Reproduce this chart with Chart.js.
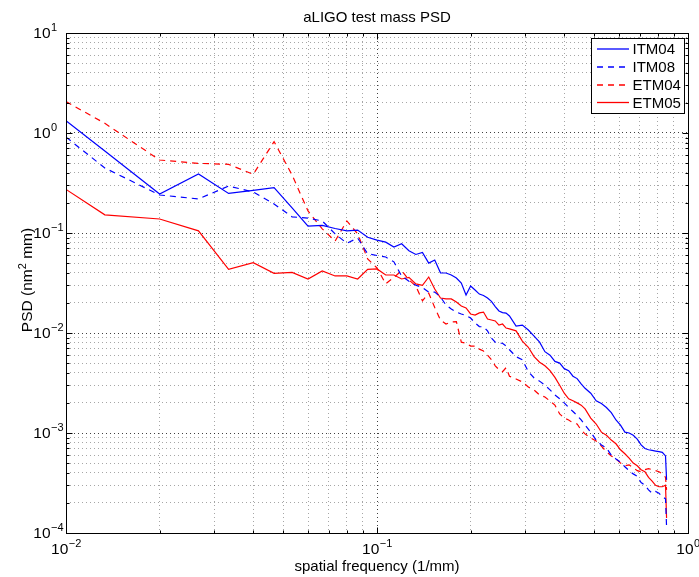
<!DOCTYPE html>
<html>
<head>
<meta charset="utf-8">
<title>aLIGO test mass PSD</title>
<script src="https://cdn.jsdelivr.net/npm/chart.js@4.4.0/dist/chart.umd.min.js"></script>
<style>
  html, body { margin: 0; padding: 0; background: #fff; }
</style>
</head>
<body>
<canvas id="psdChart" width="699" height="577"></canvas>
<script>
// === Data ===
// spatial frequency in 1/mm
const freq = [
  0.01, 0.01333, 0.02, 0.02667, 0.03333, 0.04, 0.04667, 0.05333, 0.06, 0.06667,
  0.07333, 0.08, 0.08667, 0.09333, 0.1, 0.10667, 0.11333, 0.12, 0.12667, 0.13333,
  0.14, 0.14667, 0.15333, 0.16, 0.16667, 0.17333, 0.18, 0.18667, 0.19333, 0.2,
  0.20667, 0.21333, 0.22, 0.22667, 0.23333, 0.24, 0.24667, 0.25333, 0.26, 0.26667,
  0.28, 0.29333, 0.30667, 0.32, 0.33333, 0.34667, 0.36, 0.37333, 0.38667, 0.4,
  0.41333, 0.42667, 0.44, 0.45333, 0.46667, 0.48667, 0.50667, 0.52667, 0.54667, 0.56667,
  0.58667, 0.60667, 0.62667, 0.64667, 0.66667, 0.68667, 0.70667, 0.72667, 0.74667, 0.76667,
  0.78667, 0.80667, 0.82667, 0.84667, 0.85333
];

// PSD in nm^2 mm
const itm04 = [
  1.33, 0.66, 0.245, 0.39, 0.249, 0.267, 0.284, 0.178, 0.117, 0.119,
  0.111, 0.105, 0.107, 0.0906, 0.085, 0.081, 0.0724, 0.078, 0.0666, 0.061,
  0.064, 0.050, 0.0537, 0.040, 0.0398, 0.038, 0.0355, 0.0316, 0.024, 0.0295,
  0.0269, 0.0245, 0.0237, 0.0224, 0.0207, 0.0184, 0.0166, 0.016, 0.0158, 0.0148,
  0.0117, 0.012, 0.0107, 0.0093, 0.0081, 0.0065, 0.0060, 0.0052, 0.0050, 0.0044,
  0.0042, 0.0037, 0.0035, 0.0031, 0.0028, 0.0025, 0.0021, 0.00197, 0.0018, 0.0016,
  0.00135, 0.0012, 0.00102, 0.001, 0.00095, 0.00087, 0.00076, 0.0007, 0.00068, 0.00067,
  0.00066, 0.00065, 0.00064, 0.00059, 0.00034
];

const itm08 = [
  0.91, 0.447, 0.24, 0.219, 0.295, 0.257, 0.195, 0.145, 0.141, 0.132,
  0.098, 0.079, 0.089, 0.062, 0.0596, 0.0575, 0.0515, 0.037, 0.033, 0.030,
  0.0285, 0.0256, 0.0257, 0.0229, 0.019, 0.0174, 0.0162, 0.0155, 0.0150, 0.0141,
  0.0126, 0.0116, 0.0115, 0.0105, 0.0089, 0.0081, 0.0079, 0.0079, 0.0074, 0.0068,
  0.0058, 0.0054, 0.0041, 0.00355, 0.0033, 0.003, 0.0027, 0.0024, 0.0022, 0.002,
  0.0018, 0.00164, 0.0015, 0.00135, 0.0012, 0.00102, 0.00085, 0.00076, 0.00071, 0.0006,
  0.00055, 0.00051, 0.00046, 0.00042, 0.00039, 0.00037, 0.00032, 0.0003, 0.00027, 0.00025,
  0.00026, 0.00025, 0.00023, 0.00022, 0.000115
];

const etm04 = [
  2.06, 1.25, 0.537, 0.497, 0.486, 0.386, 0.82, 0.38, 0.166, 0.11,
  0.083, 0.132, 0.098, 0.055, 0.0447, 0.031, 0.036, 0.042, 0.034, 0.0295,
  0.021, 0.025, 0.018, 0.0135, 0.0123, 0.0129, 0.013, 0.0081, 0.0079, 0.0074,
  0.0074, 0.0069, 0.0066, 0.006, 0.0054, 0.0047, 0.0043, 0.0041, 0.0045, 0.0037,
  0.00347, 0.00324, 0.00288, 0.00269, 0.0024, 0.00229, 0.00209, 0.0019, 0.00155, 0.00141,
  0.00135, 0.00126, 0.00123, 0.00107, 0.00098, 0.00089, 0.00083, 0.00074, 0.00065, 0.00059,
  0.00055, 0.0005, 0.00047, 0.00048, 0.00045, 0.00042, 0.00041, 0.00043, 0.00044, 0.00043,
  0.00042, 0.00041, 0.00039, 0.00036, 0.00027
];

const etm05 = [
  0.273, 0.152, 0.138, 0.105, 0.0433, 0.0505, 0.0395, 0.0403, 0.0347, 0.0417,
  0.0372, 0.0373, 0.0347, 0.0433, 0.0437, 0.038, 0.038, 0.0347, 0.036, 0.031,
  0.030, 0.0363, 0.0275, 0.0224, 0.0219, 0.0219, 0.0204, 0.0186, 0.0178, 0.0155,
  0.0151, 0.0159, 0.0162, 0.0138, 0.0135, 0.0132, 0.012, 0.0123, 0.0112, 0.011,
  0.0105, 0.0083, 0.0072, 0.0058, 0.0051, 0.0047, 0.0042, 0.0036, 0.0030, 0.0025,
  0.0022, 0.0021, 0.002, 0.0019, 0.00174, 0.00141, 0.00123, 0.00102, 0.00095, 0.00085,
  0.00078, 0.00068, 0.00062, 0.00056, 0.0005, 0.00047, 0.00043, 0.00041, 0.00036, 0.00033,
  0.0003, 0.00029, 0.00029, 0.0003, 0.000141
];

const seriesNames = ["ITM04", "ITM08", "ETM04", "ETM05"];

// decade ticks and their labels (shown as 10^exp)
const xDecades = [0.01, 0.1, 1];
const xExps = ["\u22122", "\u22121", "0"];
const yDecades = [1e-4, 1e-3, 1e-2, 1e-1, 1, 10];
const yExps = ["\u22124", "\u22123", "\u22122", "\u22121", "0", "1"];

// === Styles ===
const BLUE = "#0000ff";
const RED = "#ff0000";
const FONT = '"Liberation Sans", Arial, Helvetica, sans-serif';
const majorGrid = "rgba(0,0,0,0.75)";
const minorGrid = "rgba(0,0,0,0.35)";

function pts(vals) {
  return freq.map((f, i) => ({ x: f, y: vals[i] }));
}

// decade + 2..9 minor ticks
function logTicks(decades) {
  const ticks = [];
  decades.forEach((d, i) => {
    ticks.push({ value: d, major: true });
    if (i < decades.length - 1) {
      for (let m = 2; m <= 9; m++) ticks.push({ value: d * m, major: false });
    }
  });
  return ticks;
}

// === "10^n" label ===
function drawPow(ctx, exp, x, y, align) {
  ctx.font = "15.5px " + FONT;
  const wb = ctx.measureText("10").width;
  ctx.font = "11px " + FONT;
  const we = ctx.measureText(exp).width;
  let left;
  if (align === "center") left = x - (wb + we) / 2;
  else left = x - wb; // base right edge at x
  ctx.textAlign = "left";
  ctx.textBaseline = "middle";
  ctx.font = "15.5px " + FONT;
  ctx.fillText("10", left, y);
  ctx.font = "11px " + FONT;
  ctx.fillText(exp, left + wb + 0.5, y - 6);
}

// === Matlab-style box, ticks, labels, legend ===
const matlabAxes = {
  id: "matlabAxes",
  afterDraw(chart) {
    const { ctx, chartArea: a } = chart;
    const xs = chart.scales.x;
    const ys = chart.scales.y;
    const L = Math.round(a.left) + 0.5;
    const R = Math.round(a.right) + 0.5;
    const T = Math.round(a.top) + 0.5;
    const B = Math.round(a.bottom) + 0.5;

    ctx.save();
    ctx.strokeStyle = "#000";
    ctx.lineWidth = 1;
    ctx.setLineDash([]);

    // inward ticks on all four sides
    ctx.beginPath();
    logTicks(xDecades).forEach((t) => {
      const px = Math.round(xs.getPixelForValue(t.value)) + 0.5;
      const len = t.major ? 6 : 3;
      ctx.moveTo(px, B); ctx.lineTo(px, B - len);
      ctx.moveTo(px, T); ctx.lineTo(px, T + len);
    });
    logTicks(yDecades).forEach((t) => {
      const py = Math.round(ys.getPixelForValue(t.value)) + 0.5;
      const len = t.major ? 6 : 3;
      ctx.moveTo(L, py); ctx.lineTo(L + len, py);
      ctx.moveTo(R, py); ctx.lineTo(R - len, py);
    });
    ctx.stroke();

    // frame
    ctx.strokeRect(L, T, R - L, B - T);

    // tick labels
    ctx.fillStyle = "#000";
    xDecades.forEach((d, i) => {
      drawPow(ctx, xExps[i], xs.getPixelForValue(d), 549.5, "center");
    });
    yDecades.forEach((d, i) => {
      drawPow(ctx, yExps[i], 50.5, ys.getPixelForValue(d) + 0.5, "right");
    });

    // title and axis labels
    ctx.font = "15px " + FONT;
    ctx.textAlign = "center";
    ctx.textBaseline = "alphabetic";
    ctx.fillText("aLIGO test mass PSD", (a.left + a.right) / 2, 21.5);
    ctx.fillText("spatial frequency (1/mm)", (a.left + a.right) / 2, 570.5);

    // rotated y label with superscript 2
    ctx.save();
    ctx.translate(31.5, 280);
    ctx.rotate(-Math.PI / 2);
    ctx.font = "15.5px " + FONT;
    const p1 = "PSD (nm", p2 = " mm)";
    const w1 = ctx.measureText(p1).width;
    const w3 = ctx.measureText(p2).width;
    ctx.font = "11px " + FONT;
    const w2 = ctx.measureText("2").width;
    const start = -(w1 + w2 + w3) / 2;
    ctx.textAlign = "left";
    ctx.font = "15.5px " + FONT;
    ctx.fillText(p1, start, 0);
    ctx.fillText(p2, start + w1 + w2, 0);
    ctx.font = "11px " + FONT;
    ctx.fillText("2", start + w1, -6);
    ctx.restore();

    // legend box
    const bx = 591.5, by = 38.5, bw = 93, bh = 75;
    ctx.fillStyle = "#fff";
    ctx.fillRect(bx, by, bw, bh);
    ctx.strokeStyle = "#000";
    ctx.lineWidth = 1;
    ctx.strokeRect(bx, by, bw, bh);
    const rows = [49, 67, 85, 102.5];
    chart.data.datasets.forEach((ds, i) => {
      ctx.strokeStyle = ds.borderColor;
      ctx.lineWidth = 1.3;
      ctx.setLineDash(ds.borderDash || []);
      ctx.beginPath();
      ctx.moveTo(597, rows[i]);
      ctx.lineTo(629, rows[i]);
      ctx.stroke();
      ctx.setLineDash([]);
      ctx.fillStyle = "#000";
      ctx.font = "15px " + FONT;
      ctx.textAlign = "left";
      ctx.textBaseline = "middle";
      ctx.fillText(ds.label, 632.5, rows[i] + 1);
    });

    ctx.restore();
  },
};

// === Chart ===
const lineStyle = { pointRadius: 0, borderWidth: 1.2, tension: 0, fill: false };

new Chart(document.getElementById("psdChart"), {
  type: "line",
  data: {
    datasets: [
      { label: seriesNames[0], data: pts(itm04), borderColor: BLUE, borderDash: [], ...lineStyle },
      { label: seriesNames[1], data: pts(itm08), borderColor: BLUE, borderDash: [6, 5], ...lineStyle },
      { label: seriesNames[2], data: pts(etm04), borderColor: RED, borderDash: [6, 5], ...lineStyle },
      { label: seriesNames[3], data: pts(etm05), borderColor: RED, borderDash: [], ...lineStyle },
    ],
  },
  options: {
    responsive: false,
    animation: false,
    events: [],
    layout: { autoPadding: false, padding: { left: 66, top: 33, right: 11, bottom: 44 } },
    plugins: { legend: { display: false }, title: { display: false }, tooltip: { enabled: false } },
    scales: {
      x: {
        type: "logarithmic",
        min: 0.01,
        max: 1,
        afterBuildTicks: (s) => { s.ticks = logTicks(xDecades); },
        ticks: { display: false },
        grid: {
          drawTicks: false,
          lineWidth: 1,
          color: (c) => (c.tick && c.tick.major ? majorGrid : minorGrid),
        },
        border: { display: false, dash: [1, 3] },
      },
      y: {
        type: "logarithmic",
        min: 1e-4,
        max: 10,
        afterBuildTicks: (s) => { s.ticks = logTicks(yDecades); },
        ticks: { display: false },
        grid: {
          drawTicks: false,
          lineWidth: 1,
          color: (c) => (c.tick && c.tick.major ? majorGrid : minorGrid),
        },
        border: { display: false, dash: [1, 3] },
      },
    },
  },
  plugins: [matlabAxes],
});
</script>
</body>
</html>
